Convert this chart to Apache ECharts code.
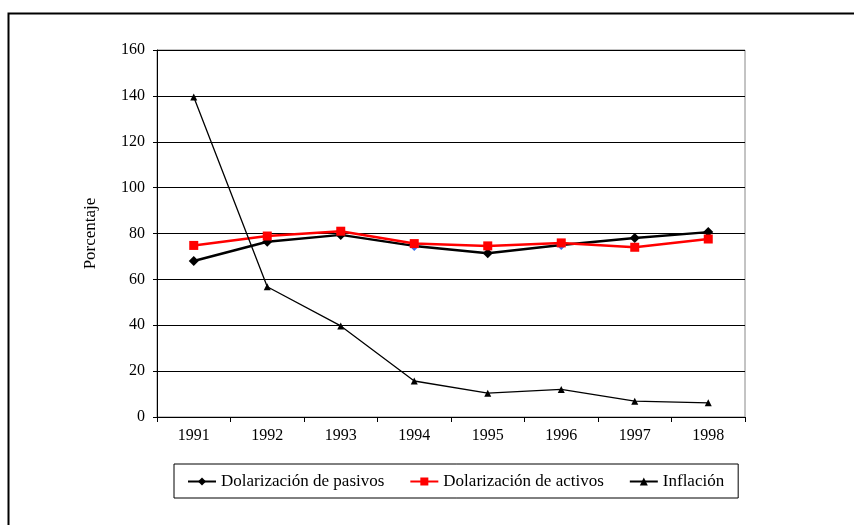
<html>

<head>
    <meta charset="utf-8" />
    <style>
        html, body { margin: 0; padding: 0; background: #fff; }
        #chart { width: 854px; height: 525px; }
    </style>
</head>

<body>
    <div id="chart"></div>
    <script src="https://cdn.jsdelivr.net/npm/echarts@6/dist/echarts.min.js"></script>
    <script>
        // datos
        var years = ['1991', '1992', '1993', '1994', '1995', '1996', '1997', '1998'];
        var pasivos = [68.0, 76.4, 79.4, 74.6, 71.4, 75.0, 78.0, 80.6];
        var activos = [74.8, 78.9, 81.0, 75.6, 74.6, 75.9, 74.0, 77.6];
        var inflacion = [139.5, 56.8, 39.7, 15.7, 10.4, 12.0, 6.9, 6.2];
        var yTicks = [0, 20, 40, 60, 80, 100, 120, 140, 160];

        var serif = '"Liberation Serif", "DejaVu Serif", serif';
        var chart = echarts.init(document.getElementById('chart'));

        // los rombos de 1994 y 1996 salen azulados en el original
        var blueIdx = [3, 5];
        var pasivosData = pasivos.map(function (v, i) {
            if (blueIdx.indexOf(i) >= 0) {
                return { value: v, itemStyle: { color: '#3a6fe8' } };
            }
            return v;
        });

        var option = {
            animation: false,
            backgroundColor: '#fff',
            textStyle: { fontFamily: serif, color: '#000' },
            graphic: [{
                type: 'rect',
                shape: { x: 8.5, y: 13.5, width: 900, height: 600 },
                style: { fill: 'none', stroke: '#000', lineWidth: 2 },
                silent: true
            }],
            grid: {
                left: 157, top: 50, right: 109, bottom: 108,
                show: true, borderColor: '#888', borderWidth: 1
            },
            xAxis: {
                type: 'category',
                data: years,
                boundaryGap: true,
                axisLine: { lineStyle: { color: '#000', width: 1 } },
                axisTick: { show: true, interval: 0, length: 5, lineStyle: { color: '#000' } },
                axisLabel: { color: '#000', fontFamily: serif, fontSize: 16, margin: 11 },
                splitLine: { show: false }
            },
            yAxis: {
                type: 'value',
                min: yTicks[0],
                max: yTicks[yTicks.length - 1],
                interval: 20,
                name: 'Porcentaje',
                nameLocation: 'middle',
                nameGap: 58,
                nameTextStyle: { color: '#000', fontFamily: serif, fontSize: 17 },
                axisLine: { show: true, lineStyle: { color: '#000', width: 1 } },
                axisTick: { show: true, length: 4, lineStyle: { color: '#000' } },
                axisLabel: { color: '#000', fontFamily: serif, fontSize: 16, margin: 12 },
                splitLine: { show: true, lineStyle: { color: '#000', width: 1 } }
            },
            legend: {
                bottom: 27,
                left: 174,
                borderColor: '#000',
                borderWidth: 1,
                borderRadius: 0,
                padding: [9, 14, 8, 13],
                itemWidth: 28,
                itemHeight: 10,
                itemGap: 25,
                textStyle: { color: '#000', fontFamily: serif, fontSize: 17 },
                data: ['Dolarización de pasivos', 'Dolarización de activos', 'Inflación']
            },
            series: [
                {
                    name: 'Dolarización de pasivos',
                    type: 'line',
                    data: pasivosData,
                    symbol: 'diamond',
                    symbolSize: 10,
                    itemStyle: { color: '#000' },
                    lineStyle: { color: '#000', width: 2.5 },
                    z: 3
                },
                {
                    name: 'Dolarización de activos',
                    type: 'line',
                    data: activos,
                    symbol: 'rect',
                    symbolSize: 9,
                    itemStyle: { color: '#ff0000' },
                    lineStyle: { color: '#ff0000', width: 2.5 },
                    z: 4
                },
                {
                    name: 'Inflación',
                    type: 'line',
                    data: inflacion,
                    symbol: 'triangle',
                    symbolSize: 7,
                    itemStyle: { color: '#000' },
                    lineStyle: { color: '#000', width: 1.3 },
                    z: 5
                }
            ]
        };
        chart.setOption(option);
    </script>
</body>

</html>
